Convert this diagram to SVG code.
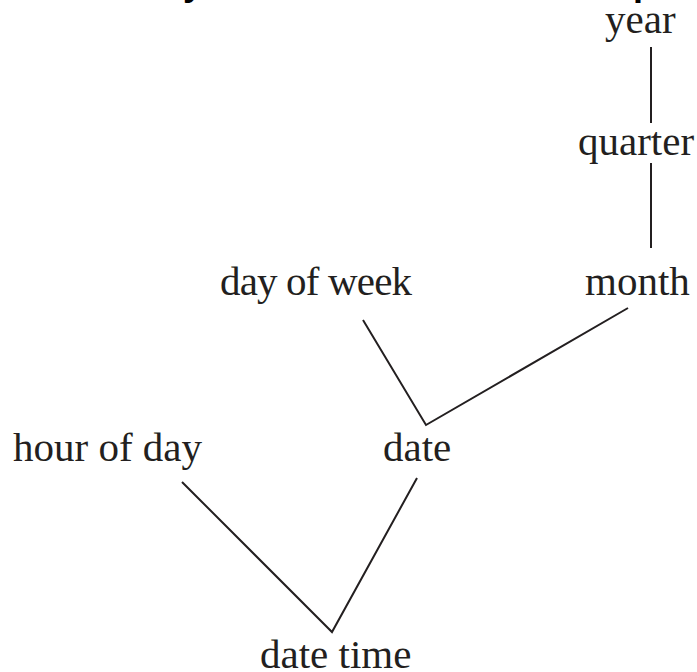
<svg xmlns="http://www.w3.org/2000/svg" width="697" height="672" viewBox="0 0 697 672">
  <style>
    .lbl { font-family: "Liberation Serif", "Times New Roman", serif; font-size: 41px; fill: #231f20; }
    .ttl { font-family: "Liberation Sans", Arial, sans-serif; font-size: 36px; font-weight: bold; fill: #000; }
    .edge { stroke: #231f20; stroke-width: 2; fill: none; }
  </style>
  <rect width="697" height="672" fill="#fff"/>

  <!-- heading above the frame, only its descenders reach into view -->
  <g id="heading">
    <text class="ttl" x="183" y="-5.5">y</text>
    <text class="ttl" x="633" y="-5.5">p</text>
  </g>

  <g id="connectors">
    <line class="edge" x1="651" y1="47" x2="651" y2="123"/>
    <line class="edge" x1="651" y1="163" x2="651" y2="248"/>
    <polyline class="edge" points="363,320 426,425 628,308"/>
    <polyline class="edge" points="182,482 332,632 417,478"/>
  </g>

  <g id="year"><text class="lbl" x="605" y="33">year</text></g>
  <g id="quarter"><text class="lbl" x="578" y="155">quarter</text></g>
  <g id="month"><text class="lbl" x="585" y="295">month</text></g>
  <g id="day-of-week"><text class="lbl" x="220" y="295" textLength="192" lengthAdjust="spacing">day of week</text></g>
  <g id="date"><text class="lbl" x="383" y="461">date</text></g>
  <g id="hour-of-day"><text class="lbl" x="13" y="461">hour of day</text></g>
  <g id="date-time"><text class="lbl" x="260" y="668">date time</text></g>
</svg>
